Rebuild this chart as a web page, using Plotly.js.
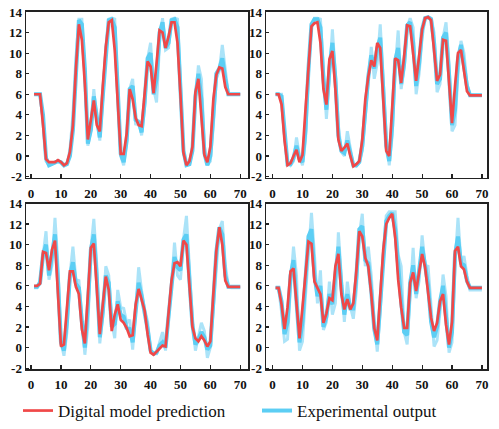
<!DOCTYPE html>
<html>
<head>
<meta charset="utf-8">
<script src="https://cdn.plot.ly/plotly-3.0.1.min.js"></script>
<style>html,body{margin:0;padding:0;background:#fff;}#chart{width:499px;height:429px;}</style>
</head>
<body>
<div id="chart"></div>
<script>
// sample index 1..70
const sampleIdx = Array.from({length: 70}, (_, i) => i + 1);
const xTicks = [0, 10, 20, 30, 40, 50, 60, 70];
const yTicks = [-2, 0, 2, 4, 6, 8, 10, 12, 14];

// Panel (a)
const pred1 = [6,6,6,3,-0.3,-0.6,-0.6,-0.6,-0.4,-0.6,-0.9,-0.7,0.4,3,8.5,12.8,11.3,7,1.6,3.5,5.4,3,2.4,6.8,10.6,13,13.2,10.3,5.1,0.2,0.2,2.2,6.5,5.5,3.7,3,2.9,5.9,9.2,8.7,6.1,9,12.2,12,10.5,11.6,13,13,11,5.9,0.3,-0.9,-0.5,0.9,6.2,7.5,3.5,0.1,-0.6,0.9,5.5,7.9,8.6,8.5,6.7,6,6,6,6,6];
const expMain1 = [6,6,6,4,-0.2,-0.9,-0.8,-0.6,-0.5,-0.6,-0.9,-0.8,0,2.5,8,13.2,12.8,8.5,1.2,2.5,5.8,3.5,1.8,5.8,10.2,13.2,13.3,12.5,6.5,0.2,-0.6,1.5,6.5,6.8,3.5,3.3,2.3,5.2,9.5,10,6,7.5,12,13,10.5,11,13.2,13.3,12.5,7,0.5,-0.9,-0.8,0.5,5.8,8,5.5,0.3,-0.9,0,4.5,8,8.5,9.5,7.5,6,6,6,6,6];
const expSpread1 = [6,6,6,3.5,-0.5,-0.9,-0.8,-0.6,-0.5,-0.7,-1,-0.8,0.6,4,9.5,13.3,13.3,8,1,2.5,6.5,3.5,1.5,5.5,10.5,13.3,13.4,13.3,6,0,-0.9,1.5,6.5,7.5,3,3.5,2,4.8,9.5,11,6.5,5.2,11,13.4,10.3,10.5,13.3,13.4,13.3,7,0.5,-0.9,-0.8,0.5,5.5,8.8,7.5,1,-0.9,-0.5,3,7.5,8.3,10.8,8.5,6,6,6,6,6];

// Panel (b)
const pred2 = [6,6,5,1.5,-0.9,-0.7,0,0.6,-0.6,0.1,4.5,9,12.6,12.9,13,11,6.5,5,9.4,10.2,6.5,1.6,0.5,0.8,1.2,0,-1,-0.8,-0.5,1.6,5.5,7.7,9.3,8.7,11,10.5,5.5,0.5,0,4.5,9.5,9.3,7.1,9.7,12.7,12.6,10,7.3,9.7,12.3,13.4,13.5,13.2,10.3,7.3,7.9,11.3,11.2,7.1,3.2,6.8,10,10.3,8.1,6.3,5.9,5.9,5.9,5.9,5.9];
const expMain2 = [6,6,5.8,2.5,-0.8,-0.8,-0.2,1,-0.3,-0.6,2.5,8.5,12.8,13.3,13.3,12.5,7.5,4.5,8.5,11,7.5,2,0.5,0.3,1.5,0.3,-0.9,-0.9,-0.6,1,5,7.7,9.8,8.5,10.5,11.5,6.5,1,-0.5,3,9.3,10.5,7,9,12.7,13,11,6.8,9,12.3,13.4,13.5,13.3,11,7,7.5,11.5,12,8,3,4.5,9.5,10.8,9,6.8,5.9,5.9,5.9,5.9,5.9];
const expSpread2 = [6,6,6,2,-0.5,-0.9,-0.5,1.8,0,-0.9,1.5,8,12.5,13.4,13.4,13.3,8,3.6,7.5,12.3,8,3,0.4,0,2.4,0.8,-0.9,-1,-0.6,0.5,4,7.5,10.6,7.5,9,12.8,8,2,-0.9,2,8.5,12.2,6.5,8.5,12.5,13.4,12.5,6,8,11.5,13.4,13.5,13.4,12,6.2,7,11.5,13,9,2.4,3,8,11.2,10,7,6,5.9,5.9,5.9,5.9];

// Panel (c)
const pred3 = [6,6,6.2,9.3,9.2,7.5,9.5,10.4,5.2,0.1,0.3,3.9,7.4,7.4,5.9,5.2,1.8,0.4,5.2,9.7,10.1,5.9,1.3,4.2,6.9,5.6,1.6,3.2,4.2,2.7,2.4,1.9,1.1,1.2,4.2,5.7,4.6,3.6,1.3,-0.5,-0.7,-0.4,0,0.2,0.1,3.5,6.5,8.2,8.3,7.9,10.4,10,5.9,2,0.9,0.6,1.1,0.7,0.1,0.6,5.2,9.4,11.7,10,6.5,5.9,5.9,5.9,5.9,5.9];
const expMain3 = [5.9,5.9,6.3,9,10,7,9,11,6.5,0.5,-0.3,2.5,7,8.3,6.2,5.8,2.5,0,4,9.5,11,6.8,1,3.5,7,6.3,2,2.3,4.5,3.2,3,1.9,1.8,0.5,3.5,6.3,5,3.6,1.8,-0.3,-0.6,-0.5,0.2,0.5,0,3,6.3,8.8,7.8,7.5,10.5,11,6.5,2.2,0.3,0.8,1.5,1,-0.2,0.2,4.5,9.3,11.7,11,7,5.9,5.9,5.9,5.9,5.9];
const expSpread3 = [5.8,5.8,6.5,9,11.3,6.6,8,12.6,8,0.5,-0.8,1.5,7,9.8,6.6,6.5,2.5,-0.7,2,9.5,12.5,8,0.4,3,7.9,7,2.5,0.9,5.6,3.9,3.8,2.4,2.7,-0.2,3.5,7.8,5.5,3.7,2.5,-0.3,-0.6,-0.6,0.5,1.5,-0.3,2.5,6,10.2,7,6.6,10.5,12.8,8,2.6,-0.3,1,2.4,1.6,-1,0,4,8.5,11.5,12.3,8,6,5.8,5.8,5.8,5.8];

// Panel (d)
const pred4 = [5.8,5.8,4.2,1.8,3.9,7.4,7.7,3.9,0.9,3.9,7.4,10.3,10.1,6.4,5.8,5.2,2.4,3.3,4.8,4.6,7.9,9.1,5.2,3.7,4.7,3.7,4.3,7.4,11.3,10.8,8.7,7.9,5.2,1.9,0.7,5,9.5,12,12.6,13,10.7,6.6,3.9,1.9,1.9,6.3,7.3,5.5,7.4,9.1,7.8,5.5,2.9,1.6,2.4,4.5,5.2,2.2,0.3,2.5,9.4,9.8,7.9,7.6,6.4,5.8,5.8,5.8,5.8,5.8];
const expMain4 = [5.8,5.8,4.5,1.3,2.5,7,8.5,4.5,0.5,2.5,7,10.8,11.5,7,5,6,2,3,5.2,4.2,7,9.8,6,3.2,5.2,3.8,3.8,6.8,11.5,11.8,8.5,8.2,5.5,1.8,0.3,4.5,9.5,12.3,12.8,13.1,11.5,7.5,4.5,1.5,1.2,6.3,8,5.2,7.2,9.8,8,6,2.5,1,2,4.5,6,3,0,1.5,9,10.8,8.2,8,6.5,5.8,5.8,5.8,5.8,5.8];
const expSpread4 = [5.8,5.8,3.5,0.6,0.8,6,9.8,7,-0.3,0.6,5,9.5,13.1,9,4.3,7.5,1.7,2.5,6.4,3.2,4.3,11.2,7,2.5,6.4,4,2.8,5.5,11,13,7.9,9.8,7,2.5,-0.4,3.5,9,12.8,13.2,13.2,13.2,9,7.9,1.5,0.3,5,9.7,4.8,6.5,10.9,8,7.9,4,0.1,0.7,3.5,7.1,5,-0.5,0.5,8,12.6,8.2,8.9,7,5.6,5.6,5.6,5.6,5.6];

const predName = 'Digital model prediction';
const expName = 'Experimental output';
const redColor = 'rgb(240,72,72)';
const blueColor = 'rgb(92,206,244)';
const lightBlue = 'rgba(150,220,246,0.8)';

const panels = [
  {pred: pred1, main: expMain1, spread: expSpread1, xa: 'x', ya: 'y'},
  {pred: pred2, main: expMain2, spread: expSpread2, xa: 'x2', ya: 'y2'},
  {pred: pred3, main: expMain3, spread: expSpread3, xa: 'x3', ya: 'y3'},
  {pred: pred4, main: expMain4, spread: expSpread4, xa: 'x4', ya: 'y4'}
];

const traces = [];
panels.forEach((p, i) => {
  traces.push({
    x: sampleIdx, y: p.spread, xaxis: p.xa, yaxis: p.ya, type: 'scatter', mode: 'lines',
    line: {color: lightBlue, width: 3}, name: expName, showlegend: false, hoverinfo: 'skip'
  });
  traces.push({
    x: sampleIdx, y: p.main, xaxis: p.xa, yaxis: p.ya, type: 'scatter', mode: 'lines',
    line: {color: blueColor, width: 4}, name: expName, showlegend: i === 0,
    legend: 'legend2', hoverinfo: 'skip'
  });
  traces.push({
    x: sampleIdx, y: p.pred, xaxis: p.xa, yaxis: p.ya, type: 'scatter', mode: 'lines',
    line: {color: redColor, width: 2.7}, name: predName, showlegend: i === 0,
    legend: 'legend', hoverinfo: 'skip'
  });
});

const serif = 'Liberation Serif';
function tickFont() { return {family: serif, size: 13, color: '#111', weight: 'bold'}; }
function xAx(domain, range, anchor) {
  return {domain: domain, range: range, anchor: anchor, tickvals: xTicks, ticktext: xTicks.map(String),
    ticks: 'inside', ticklen: 4, tickwidth: 1.2, tickcolor: '#222', showline: true, mirror: true,
    linecolor: '#222', linewidth: 1.5, showgrid: false, zeroline: false, tickfont: tickFont(),
    ticklabelstandoff: 3, fixedrange: true};
}
function yAx(domain, range, anchor) {
  return {domain: domain, range: range, anchor: anchor, tickvals: yTicks, ticktext: yTicks.map(String),
    ticks: 'inside', ticklen: 3, tickwidth: 1.2, tickcolor: '#222', showline: true, mirror: true,
    linecolor: '#222', linewidth: 1.5, showgrid: false, zeroline: false, tickfont: tickFont(), fixedrange: true};
}

const W = 499, H = 429;
const topDom = [1 - 178 / H, 1 - 12 / H];
const botDom = [1 - 370 / H, 1 - 204 / H];
const leftDom = [26 / W, 248 / W];
const rightDom = [266 / W, 487 / W];

const layout = {
  width: W, height: H,
  margin: {l: 0, r: 0, t: 0, b: 0},
  paper_bgcolor: '#fff', plot_bgcolor: '#fff',
  font: {family: serif, color: '#111'},
  xaxis: xAx(leftDom, [-1.7, 72.6], 'y'),
  yaxis: yAx(topDom, [-2.1, 14], 'x'),
  xaxis2: xAx(rightDom, [-2.2, 71.7], 'y2'),
  yaxis2: yAx(topDom, [-2.1, 14], 'x2'),
  xaxis3: xAx(leftDom, [-1.7, 72.6], 'y3'),
  yaxis3: yAx(botDom, [-2.1, 14], 'x3'),
  xaxis4: xAx(rightDom, [-2.2, 71.7], 'y4'),
  yaxis4: yAx(botDom, [-2.1, 14], 'x4'),
  showlegend: true,
  legend: {orientation: 'h', x: 18 / W, xanchor: 'left', y: 1 - 412 / H, yanchor: 'middle',
    font: {family: serif, size: 17, color: '#111'}, bgcolor: 'rgba(0,0,0,0)'},
  legend2: {orientation: 'h', x: 257 / W, xanchor: 'left', y: 1 - 412 / H, yanchor: 'middle',
    font: {family: serif, size: 17, color: '#111'}, bgcolor: 'rgba(0,0,0,0)'}
};

Plotly.newPlot('chart', traces, layout, {displayModeBar: false, staticPlot: true});
</script>
</body>
</html>
